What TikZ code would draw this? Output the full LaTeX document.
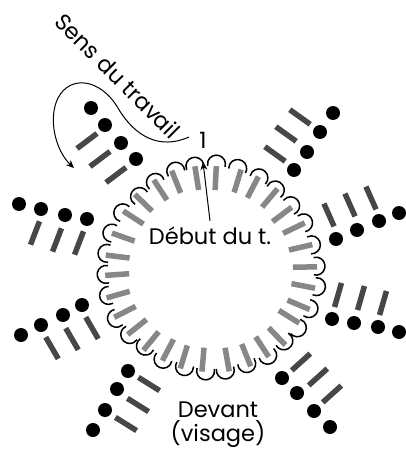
\documentclass[tikz,border=0pt]{standalone}
\usepackage{fontspec}
\setmainfont{Poppins}
\usetikzlibrary{arrows.meta,positioning}

\begin{document}
\begin{tikzpicture}[x=1pt,y=1pt]
\tikzset{
  ringbar/.style={line width=5.5pt,draw=black!47},
  outerbar/.style={line width=5.5pt,draw=black!72},
  scallop/.style={line width=1.5pt},
  stitchdot/.style={circle,fill=black,minimum size=14pt,inner sep=0pt},
  pointer/.style={-{Stealth[length=8pt,width=7pt]},line width=1pt},
  label/.style={font=\fontsize{22.5}{24}\selectfont,inner sep=1pt}
}
\useasboundingbox (0,-449) rectangle (405,0);
% ring of bars and scallops
\begin{scope}[shift={(211,-268)}]
\foreach \a/\r in {87/90,73/91,62.6/91,50/91.5,37/89,25.7/92,13/92,0.6/94,-11/94,-22.8/95,-32/92,-46/95,-57/94,-68/94,-80/93,-95/92,-107/93,-117.7/92.6,-129.4/94.5,-141.4/94.6,-153/96.6,-164/96.6,-176/94,173/94,160.6/93,147/92.6,136/94,123/93,112/93,99/91}
  \draw[ringbar] (\a:\r) ++(\a:12) -- ++(\a:-24);
\foreach \a/\r in {87/113,75/112,62/111,50.5/110,38/110,26/112,13/112,1/114,-10/116,-22.5/115,-34.7/114,-45/112,-57/113,-69.5/111,-82/112,-93/112,-105/111,-117.7/112,-130/111,-140.7/114,-152/116,-165/115,-176.5/114,172/114,160.6/114,148/113,135/110,123/111,110/112,99/112}
  \draw[scallop] (\a:\r-9) ++(\a-105:9) arc[start angle=\a-105,delta angle=210,radius=9];
\end{scope}
% outer dots
\foreach \x/\y in {91/108,105/125,121/143,136/159,
  19/204,41/209,65/215,87/219,
  21/335,41/325,63/315,82/305,
  128/371,117/389,105/410,93/430,
  282/378,297/393,314/411,330/427,
  332/319,354/323,378/327,399/332,
  336/239,357/230,379/221,399/213,
  294/170,307/152,320/132,333/113}
  \node[stitchdot] at (\x,-\y) {};
% outer bars
\foreach \x/\y/\a in {87/141/37,100/159/37,116/175/37,
  35/233/69,57/240/69,79/243/69,
  52/348/120,72/339/120,92/328/120,
  149/384/-32,138/405/-32,126/424/-32,
  301/362/42,318/377/42,332/394/42,
  338/295/74,361/298/74,383/303/74,
  329/215/114,350/205/114,371/198/114,
  275/154/-35.6,286/134/-35.6,300/117/-35.6}
  \draw[outerbar] (\x,-\y) ++(\a:12.5) -- ++(\a:-25);
% labels
\node[label] (n_one) at (203,-140) {1};
\node[label] (n_debut) at (210,-236) {Début du t.};
\node[label,align=center] (n_devant) at (218,-425) {Devant\\(visage)};
\node[label,rotate=-45] (n_sens) at (118,-76) {Sens du travail};
\coordinate (c_first) at (203,-162);
\coordinate (c_start) at (189,-137);
\coordinate (c_end) at (74,-168);
\draw[pointer] ([yshift=5pt]n_debut.north) -- (c_first);
\draw[pointer] (c_start) .. controls (160,-150) and (135,-137) .. (118,-108)
  .. controls (100,-78) and (70,-75) .. (58,-98)
  .. controls (48,-118) and (55,-150) .. (c_end);
\end{tikzpicture}
\end{document}
